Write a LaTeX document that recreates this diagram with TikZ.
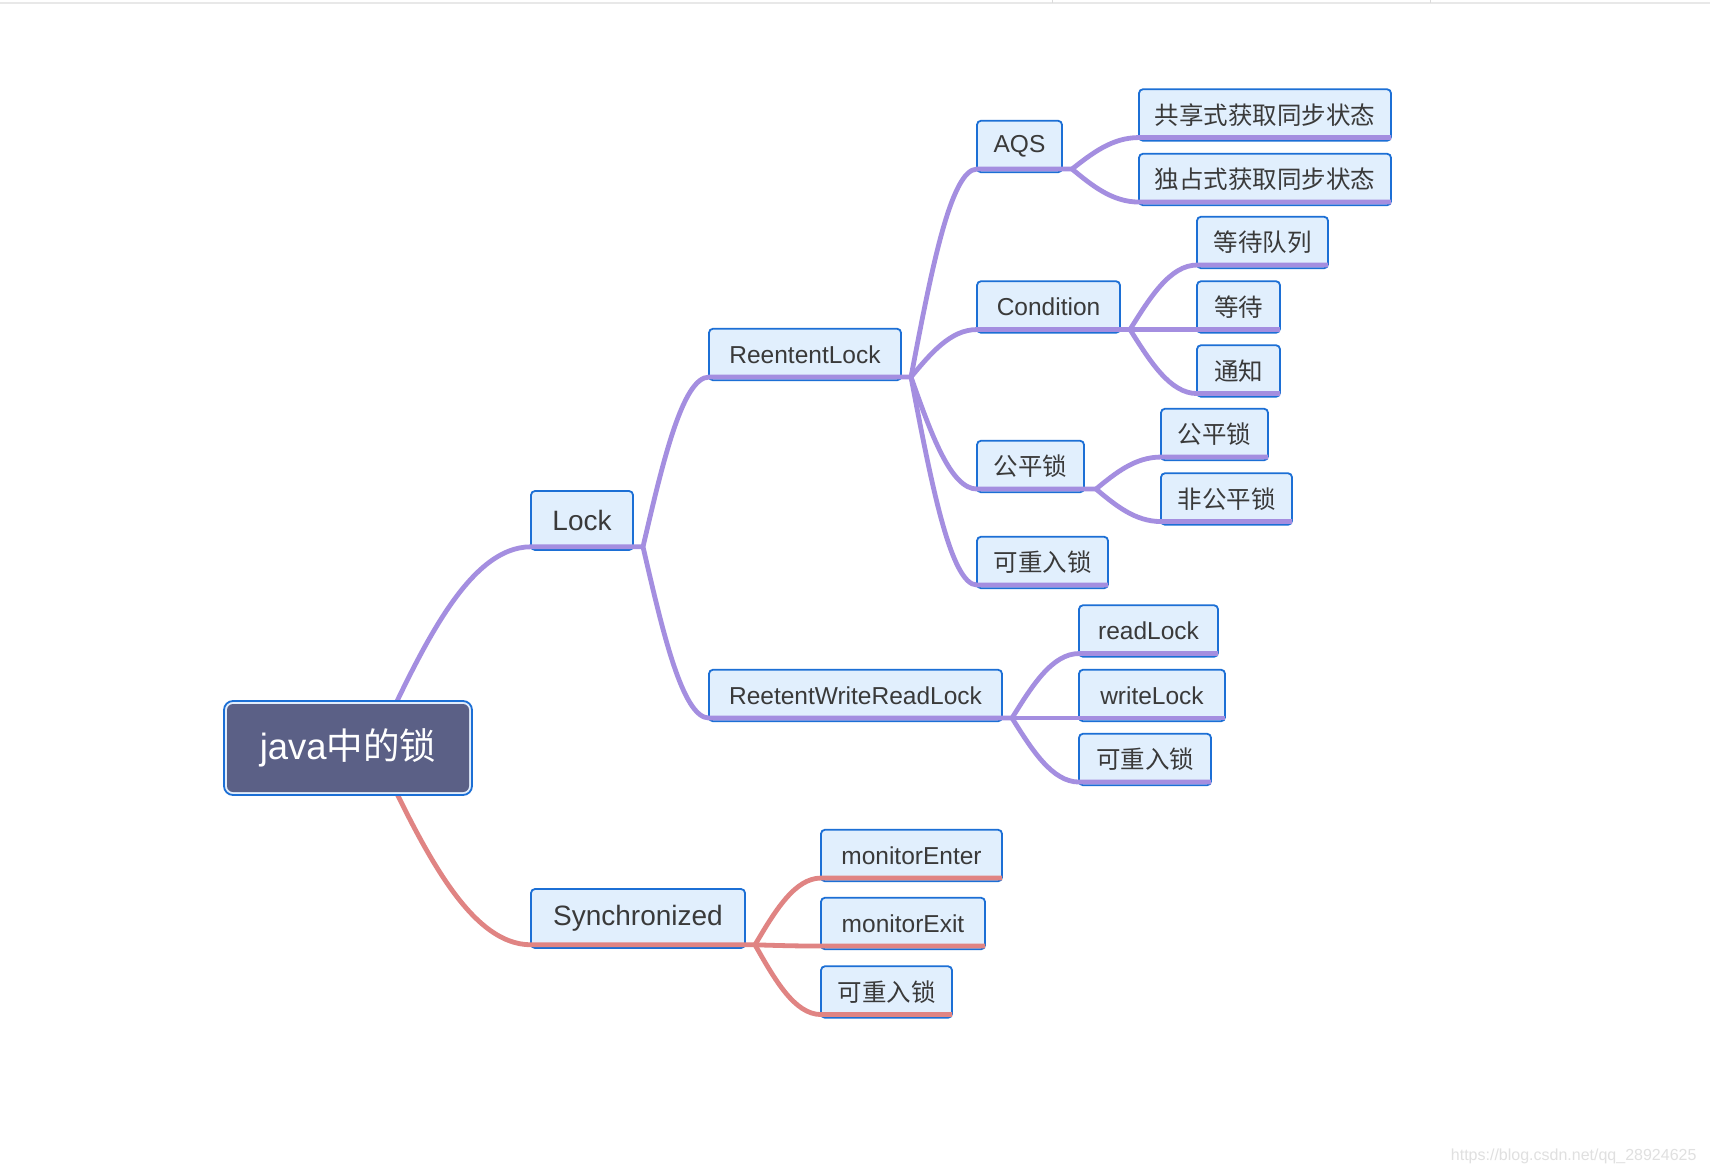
\documentclass[tikz,border=0pt]{standalone}
\usepackage{fontspec}
\setmainfont{Liberation Sans}
\newfontfamily\cjk{Noto Sans CJK SC}
\usepackage{xcolor}
\usepackage{tikz}
\usetikzlibrary{calc}

\definecolor{boxblue}{RGB}{28,111,213}
\definecolor{boxfill}{RGB}{225,239,253}
\definecolor{lav}{RGB}{164,142,224}
\definecolor{rosy}{RGB}{224,132,131}
\definecolor{rootfill}{RGB}{91,96,134}
\definecolor{rootgap}{RGB}{226,237,251}
\definecolor{textgray}{RGB}{58,58,58}

\begin{document}
\begin{tikzpicture}[x=1pt, y=-1pt]
        % Define styles
        \tikzset{
            topic/.style={rectangle, rounded corners=4pt, draw=boxblue, line width=1.8pt, fill=boxfill, text=textgray, minimum height=51.5pt, inner sep=0pt, outer sep=0pt, anchor=west, font=\fontsize{24.5}{28}\selectfont},
            maintopic/.style={topic, minimum height=59pt, font=\fontsize{28}{32}\selectfont},
            rootbox/.style={rectangle, rounded corners=9pt, draw=boxblue, line width=1.8pt, fill=rootgap, text=white, minimum width=248pt, minimum height=94pt, inner sep=0pt, outer sep=0pt, font=\fontsize{36.5}{40}\selectfont,
                path picture={\fill[rootfill, rounded corners=6pt] ([shift={(3pt,-3pt)}]path picture bounding box.north west) rectangle ([shift={(-3pt,3pt)}]path picture bounding box.south east);}},
            lavline/.style={draw=lav, line width=4.8pt, line join=round},
            redline/.style={draw=rosy, line width=4.8pt, line join=round},
            twig/.style={to path={let \p1=(\tikztostart), \p2=(\tikztotarget) in .. controls ({\x1+0.3*(\x2-\x1)},{\y1+0.5*(\y2-\y1)}) and ({\x2-0.4*(\x2-\x1)},\y2) .. (\tikztotarget)}}
        }

        % Page
        \useasboundingbox (0,0) rectangle (1710,1174);
        \fill[white] (0,0) rectangle (1710,1174);
        \draw[black!9, line width=2pt] (0,3) -- (1710,3);
        \draw[black!14, line width=0.8pt] (1052,0) -- (1052,3);
        \draw[black!14, line width=0.8pt] (1430,0) -- (1430,3);

        % Create nodes
        \node [maintopic, minimum width=102pt] (lock) at (531,520.5) {Lock};
        \node [maintopic, minimum width=214pt] (sync) at (531,918.5) {Synchronized};
        \node [topic, minimum width=192pt] (rl) at (709,354.5) {ReententLock};
        \node [topic, minimum width=293pt] (rwrl) at (709,695.5) {ReetentWriteReadLock};
        \node [topic, minimum width=85pt] (aqs) at (977,146.5) {AQS};
        \node [topic, minimum width=143pt] (cond) at (977,307) {Condition};
        \node [topic, minimum width=107pt] (fair) at (977,466.5) {\cjk 公平锁};
        \node [topic, minimum width=131pt] (reent1) at (977,562.5) {\cjk 可重入锁};
        \node [topic, minimum width=252pt] (share) at (1139,115) {\cjk 共享式获取同步状态};
        \node [topic, minimum width=252pt] (excl) at (1139,179.5) {\cjk 独占式获取同步状态};
        \node [topic, minimum width=131pt] (queue) at (1197,242.5) {\cjk 等待队列};
        \node [topic, minimum width=83pt] (wait) at (1197,307) {\cjk 等待};
        \node [topic, minimum width=83pt] (notify) at (1197,371) {\cjk 通知};
        \node [topic, minimum width=107pt] (fair2) at (1161,434.5) {\cjk 公平锁};
        \node [topic, minimum width=131pt] (unfair) at (1161,499) {\cjk 非公平锁};
        \node [topic, minimum width=139pt] (rlock) at (1079,631) {readLock};
        \node [topic, minimum width=146pt] (wlock) at (1079,695.5) {writeLock};
        \node [topic, minimum width=132pt] (reent2) at (1079,759.5) {\cjk 可重入锁};
        \node [topic, minimum width=181pt] (menter) at (821,855.5) {monitorEnter};
        \node [topic, minimum width=164pt] (mexit) at (821,923.5) {monitorExit};
        \node [topic, minimum width=131pt] (reent3) at (821,992) {\cjk 可重入锁};

        % Junctions
        \coordinate (rootj) at (375,748);
        \coordinate (lockj) at ([xshift=10pt,yshift=3.2pt]lock.south east);
        \coordinate (syncj) at ([xshift=10pt,yshift=3.2pt]sync.south east);
        \coordinate (rlj) at ([xshift=10pt,yshift=3.2pt]rl.south east);
        \coordinate (rwrlj) at ([xshift=10pt,yshift=3.2pt]rwrl.south east);
        \coordinate (aqsj) at ([xshift=10pt,yshift=3.2pt]aqs.south east);
        \coordinate (condj) at ([xshift=10pt,yshift=3.2pt]cond.south east);
        \coordinate (fairj) at ([xshift=12pt,yshift=3.2pt]fair.south east);

        % Create branches
        \draw [lavline] (rootj) to[twig] ([yshift=3.2pt]lock.south west) -- (lockj);
        \draw [redline] (rootj) to[twig] ([yshift=3.2pt]sync.south west) -- (syncj);
        \draw [lavline] (lockj) to[twig] ([yshift=3.2pt]rl.south west) -- (rlj);
        \draw [lavline] (lockj) to[twig] ([yshift=3.2pt]rwrl.south west) -- (rwrlj);
        \draw [lavline] (rlj) to[twig] ([yshift=3.2pt]aqs.south west) -- (aqsj);
        \draw [lavline] (rlj) to[twig] ([yshift=3.2pt]cond.south west) -- (condj);
        \draw [lavline] (rlj) to[twig] ([yshift=3.2pt]fair.south west) -- (fairj);
        \draw [lavline] (rlj) to[twig] ([yshift=3.2pt]reent1.south west) -- ([yshift=3.2pt]reent1.south east);
        \draw [lavline] (aqsj) to[twig] ([yshift=3.2pt]share.south west) -- ([yshift=3.2pt]share.south east);
        \draw [lavline] (aqsj) to[twig] ([yshift=3.2pt]excl.south west) -- ([yshift=3.2pt]excl.south east);
        \draw [lavline] (condj) to[twig] ([yshift=3.2pt]queue.south west) -- ([yshift=3.2pt]queue.south east);
        \draw [lavline] (condj) to[twig] ([yshift=3.2pt]wait.south west) -- ([yshift=3.2pt]wait.south east);
        \draw [lavline] (condj) to[twig] ([yshift=3.2pt]notify.south west) -- ([yshift=3.2pt]notify.south east);
        \draw [lavline] (fairj) to[twig] ([yshift=3.2pt]fair2.south west) -- ([yshift=3.2pt]fair2.south east);
        \draw [lavline] (fairj) to[twig] ([yshift=3.2pt]unfair.south west) -- ([yshift=3.2pt]unfair.south east);
        \draw [lavline] (rwrlj) to[twig] ([yshift=3.2pt]rlock.south west) -- ([yshift=3.2pt]rlock.south east);
        \draw [lavline] (rwrlj) to[twig] ([yshift=3.2pt]wlock.south west) -- ([yshift=3.2pt]wlock.south east);
        \draw [lavline] (rwrlj) to[twig] ([yshift=3.2pt]reent2.south west) -- ([yshift=3.2pt]reent2.south east);
        \draw [redline] (syncj) to[twig] ([yshift=3.2pt]menter.south west) -- ([yshift=3.2pt]menter.south east);
        \draw [redline] (syncj) to[twig] ([yshift=3.2pt]mexit.south west) -- ([yshift=3.2pt]mexit.south east);
        \draw [redline] (syncj) to[twig] ([yshift=3.2pt]reent3.south west) -- ([yshift=3.2pt]reent3.south east);

        % Root on top
        \node [rootbox] (root) at (348,748) {java{\cjk 中的锁}};

        % Watermark
        \node [text=black!12, font=\fontsize{16}{18}\selectfont, anchor=east] (watermark) at (1700,1156) {https://blog.csdn.net/qq\_28924625};
    \end{tikzpicture}
\end{document}
